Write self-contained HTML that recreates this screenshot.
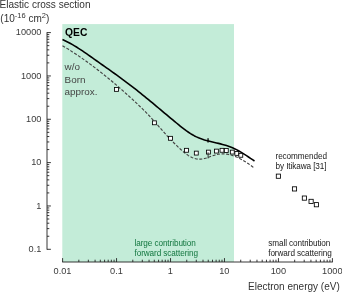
<!DOCTYPE html>
<html><head><meta charset="utf-8"><style>
html,body{margin:0;padding:0;background:#fff;overflow:hidden;}
body{width:342px;height:292px;overflow:hidden;position:relative;font-family:"Liberation Sans",sans-serif;color:#333;}
svg{position:absolute;left:0;top:0;}
.t{position:absolute;left:0;top:0;white-space:nowrap;line-height:1;filter:blur(0.3px);}
sup{font-size:7.5px;line-height:0;vertical-align:baseline;position:relative;top:-4px;}
</style></head><body>
<svg width="342" height="292" viewBox="0 0 342 292">
<rect x="62.3" y="24.1" width="171.7" height="237.90" fill="#c3ecd8"/>
<path d="M47.0 32.20V249.70 M47.0 249.30h3.9 M47.0 236.25h2.3 M47.0 228.62h2.3 M47.0 223.21h2.3 M47.0 219.01h2.3 M47.0 215.57h2.3 M47.0 212.67h2.3 M47.0 210.16h2.3 M47.0 207.94h2.3 M47.0 205.96h3.9 M47.0 192.91h2.3 M47.0 185.28h2.3 M47.0 179.87h2.3 M47.0 175.67h2.3 M47.0 172.23h2.3 M47.0 169.33h2.3 M47.0 166.82h2.3 M47.0 164.60h2.3 M47.0 162.62h3.9 M47.0 149.57h2.3 M47.0 141.94h2.3 M47.0 136.53h2.3 M47.0 132.33h2.3 M47.0 128.89h2.3 M47.0 125.99h2.3 M47.0 123.48h2.3 M47.0 121.26h2.3 M47.0 119.28h3.9 M47.0 106.23h2.3 M47.0 98.60h2.3 M47.0 93.19h2.3 M47.0 88.99h2.3 M47.0 85.55h2.3 M47.0 82.65h2.3 M47.0 80.14h2.3 M47.0 77.92h2.3 M47.0 75.94h3.9 M47.0 62.89h2.3 M47.0 55.26h2.3 M47.0 49.85h2.3 M47.0 45.65h2.3 M47.0 42.21h2.3 M47.0 39.31h2.3 M47.0 36.80h2.3 M47.0 34.58h2.3 M47.0 32.60h3.9" stroke="#222" stroke-width="0.9" fill="none"/>
<path d="M62.20 262.0H332.80 M62.60 262.0v-3.9 M78.84 262.0v-2.3 M88.35 262.0v-2.3 M95.09 262.0v-2.3 M100.32 262.0v-2.3 M104.59 262.0v-2.3 M108.20 262.0v-2.3 M111.33 262.0v-2.3 M114.09 262.0v-2.3 M116.56 262.0v-3.9 M132.80 262.0v-2.3 M142.31 262.0v-2.3 M149.05 262.0v-2.3 M154.28 262.0v-2.3 M158.55 262.0v-2.3 M162.16 262.0v-2.3 M165.29 262.0v-2.3 M168.05 262.0v-2.3 M170.52 262.0v-3.9 M186.76 262.0v-2.3 M196.27 262.0v-2.3 M203.01 262.0v-2.3 M208.24 262.0v-2.3 M212.51 262.0v-2.3 M216.12 262.0v-2.3 M219.25 262.0v-2.3 M222.01 262.0v-2.3 M224.48 262.0v-3.9 M240.72 262.0v-2.3 M250.23 262.0v-2.3 M256.97 262.0v-2.3 M262.20 262.0v-2.3 M266.47 262.0v-2.3 M270.08 262.0v-2.3 M273.21 262.0v-2.3 M275.97 262.0v-2.3 M278.44 262.0v-3.9 M294.68 262.0v-2.3 M304.19 262.0v-2.3 M310.93 262.0v-2.3 M316.16 262.0v-2.3 M320.43 262.0v-2.3 M324.04 262.0v-2.3 M327.17 262.0v-2.3 M329.93 262.0v-2.3 M332.40 262.0v-3.9" stroke="#222" stroke-width="0.9" fill="none"/>
<path d="M62.50 39.58L64.50 40.46L66.50 41.42L68.50 42.43L70.50 43.51L72.50 44.64L74.50 45.82L76.50 47.05L78.50 48.32L80.50 49.62L82.50 50.96L84.50 52.32L86.50 53.70L88.50 55.09L90.50 56.50L92.50 57.92L94.50 59.34L96.50 60.75L98.50 62.17L100.50 63.58L102.50 64.99L104.50 66.40L106.50 67.81L108.50 69.22L110.50 70.64L112.50 72.07L114.50 73.50L116.50 74.94L118.50 76.38L120.50 77.84L122.50 79.31L124.50 80.79L126.50 82.28L128.50 83.79L130.50 85.32L132.50 86.86L134.50 88.42L136.50 89.99L138.50 91.57L140.50 93.17L142.50 94.78L144.50 96.41L146.50 98.04L148.50 99.68L150.50 101.33L152.50 102.99L154.50 104.65L156.50 106.32L158.50 107.99L160.50 109.67L162.50 111.34L164.50 113.02L166.50 114.70L168.50 116.37L170.50 118.04L172.50 119.70L174.50 121.36L176.50 123.00L178.50 124.64L180.50 126.26L182.50 127.84L184.50 129.38L186.50 130.86L188.50 132.27L190.50 133.59L192.50 134.80L194.50 135.91L196.50 136.89L198.50 137.78L200.50 138.56L202.50 139.27L204.50 139.90L206.50 140.48L208.50 141.01L210.50 141.51L212.50 141.98L214.50 142.45L216.50 142.91L218.50 143.38L220.50 143.88L222.50 144.40L224.50 144.96L226.50 145.57L228.50 146.24L230.50 146.97L232.50 147.78L234.50 148.67L236.50 149.65L238.50 150.72L240.50 151.88L242.50 153.09L244.50 154.36L246.50 155.67L248.50 157.00L250.50 158.34L252.50 159.68L254.50 161.00" stroke-linejoin="round" stroke="#000" stroke-width="1.6" fill="none"/>
<path d="M62.50 45.69L64.50 46.89L66.50 48.12L68.50 49.36L70.50 50.63L72.50 51.91L74.50 53.22L76.50 54.55L78.50 55.89L80.50 57.26L82.50 58.65L84.50 60.06L86.50 61.48L88.50 62.93L90.50 64.40L92.50 65.88L94.50 67.39L96.50 68.91L98.50 70.45L100.50 72.01L102.50 73.59L104.50 75.19L106.50 76.81L108.50 78.44L110.50 80.10L112.50 81.77L114.50 83.46L116.50 85.16L118.50 86.89L120.50 88.63L122.50 90.39L124.50 92.17L126.50 93.96L128.50 95.77L130.50 97.60L132.50 99.44L134.50 101.30L136.50 103.18L138.50 105.07L140.50 106.98L142.50 108.93L144.50 110.91L146.50 112.93L148.50 115.00L150.50 117.13L152.50 119.32L154.50 121.56L156.50 123.83L158.50 126.12L160.50 128.41L162.50 130.69L164.50 132.93L166.50 135.13L168.50 137.28L170.50 139.39L172.50 141.46L174.50 143.47L176.50 145.44L178.50 147.35L180.50 149.21L182.50 151.00L184.50 152.70L186.50 154.25L188.50 155.64L190.50 156.81L192.50 157.76L194.50 158.47L196.50 158.95L198.50 159.18L200.50 159.18L202.50 158.94L204.50 158.51L206.50 157.94L208.50 157.27L210.50 156.55L212.50 155.84L214.50 155.18L216.50 154.62L218.50 154.22L220.50 153.97L222.50 153.87L224.50 153.92L226.50 154.12L228.50 154.44L230.50 154.90L232.50 155.48L234.50 156.18L236.50 156.99L238.50 157.90L240.50 158.91L242.50 160.01L244.50 161.20L246.50 162.47L248.50 163.81L250.50 165.22L252.50 166.69L253.60 167.53" stroke-linejoin="round" stroke="#444" stroke-width="1.15" fill="none" stroke-dasharray="3 1.6"/>
<path d="M208.05 138.3v4.1" stroke="#000" stroke-width="1.3"/>
<g fill="#fff" stroke="#000" stroke-width="0.85"><rect x="114.55" y="87.45" width="3.9" height="3.9"/><rect x="152.45" y="120.85" width="3.9" height="3.9"/><rect x="168.55" y="136.35" width="3.9" height="3.9"/><rect x="184.55" y="148.35" width="3.9" height="3.9"/><rect x="194.35" y="151.15" width="3.9" height="3.9"/><rect x="206.45" y="150.15" width="3.9" height="3.9"/><rect x="214.45" y="149.15" width="3.9" height="3.9"/><rect x="220.05" y="148.35" width="3.9" height="3.9"/><rect x="224.35" y="148.55" width="3.9" height="3.9"/><rect x="230.35" y="150.15" width="3.9" height="3.9"/><rect x="234.85" y="151.45" width="3.9" height="3.9"/><rect x="238.85" y="153.35" width="3.9" height="3.9"/><rect x="276.30" y="174.10" width="4.2" height="4.2"/><rect x="292.40" y="186.80" width="4.2" height="4.2"/><rect x="302.30" y="196.00" width="4.2" height="4.2"/><rect x="309.00" y="199.30" width="4.2" height="4.2"/><rect x="314.30" y="202.60" width="4.2" height="4.2"/></g>
<path d="M208.1 152.3V158.4" stroke="#222" stroke-width="0.9"/>
</svg>
<div class="t" style="font-size:10.05px;color:#333;transform:translate(-0.50px,0.19px);">Elastic cross section</div>
<div class="t" style="font-size:10px;color:#333;transform:translate(0.30px,14.44px);">(10<sup>-16</sup> cm<sup>2</sup>)</div>
<div class="t" style="font-size:9.2px;color:#3a3a3a;transform:translate(-100%,0) translate(41.40px,28.21px);">10000</div>
<div class="t" style="font-size:9.2px;color:#3a3a3a;transform:translate(-100%,0) translate(41.40px,71.55px);">1000</div>
<div class="t" style="font-size:9.2px;color:#3a3a3a;transform:translate(-100%,0) translate(41.40px,114.89px);">100</div>
<div class="t" style="font-size:9.2px;color:#3a3a3a;transform:translate(-100%,0) translate(41.40px,158.23px);">10</div>
<div class="t" style="font-size:9.2px;color:#3a3a3a;transform:translate(-100%,0) translate(41.40px,201.57px);">1</div>
<div class="t" style="font-size:9.2px;color:#3a3a3a;transform:translate(-100%,0) translate(41.40px,244.91px);">0.1</div>
<div class="t" style="font-size:9.2px;color:#3a3a3a;transform:translate(-50%,0) translate(62.50px,267.31px);">0.01</div>
<div class="t" style="font-size:9.2px;color:#3a3a3a;transform:translate(-50%,0) translate(116.46px,267.31px);">0.1</div>
<div class="t" style="font-size:9.2px;color:#3a3a3a;transform:translate(-50%,0) translate(170.42px,267.31px);">1</div>
<div class="t" style="font-size:9.2px;color:#3a3a3a;transform:translate(-50%,0) translate(224.38px,267.31px);">10</div>
<div class="t" style="font-size:9.2px;color:#3a3a3a;transform:translate(-50%,0) translate(278.34px,267.31px);">100</div>
<div class="t" style="font-size:9.2px;color:#3a3a3a;transform:translate(-50%,0) translate(332.30px,267.31px);">1000</div>
<div class="t" style="font-size:10px;color:#333;transform:translate(248.00px,281.54px);">Electron energy (eV)</div>
<div class="t" style="font-size:10.3px;color:#000;transform:translate(65.00px,28.18px);font-weight:bold;">QEC</div>
<div class="t" style="font-size:9.9px;color:#444;line-height:12.7px;transform:translate(64.60px,61.32px);">w/o<br>Born<br>approx.</div>
<div class="t" style="font-size:8.2px;color:#12763f;line-height:10px;transform:translate(134.50px,238.96px);letter-spacing:-0.09px;">large contribution<br>forward scattering</div>
<div class="t" style="font-size:8.2px;color:#1a1a1a;line-height:10.4px;transform:translate(268.20px,238.56px);letter-spacing:-0.09px;">small contribution<br>forward scattering</div>
<div class="t" style="font-size:8.2px;color:#1a1a1a;line-height:10.1px;transform:translate(275.50px,152.11px);letter-spacing:-0.09px;">recommended<br>by Itikawa [31]</div>
</body></html>
